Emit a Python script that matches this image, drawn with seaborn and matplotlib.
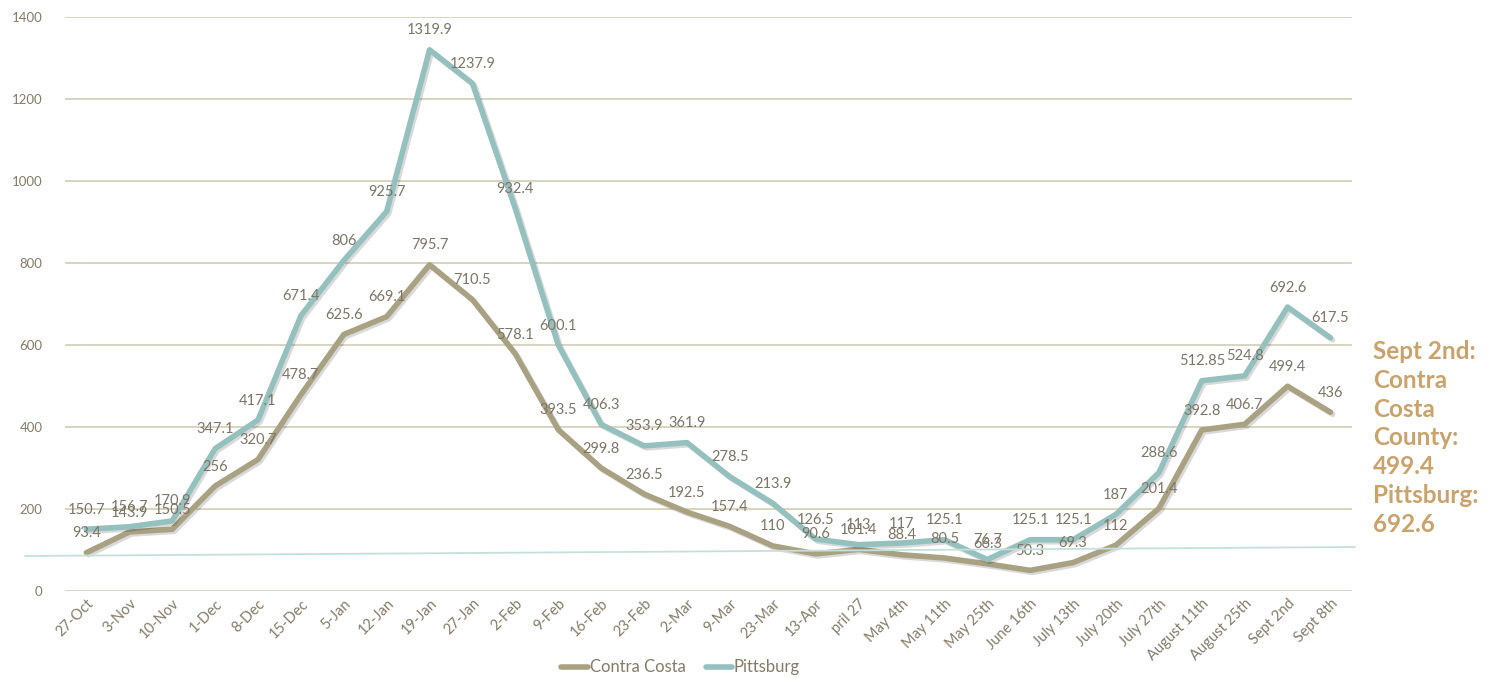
import numpy as np
import pandas as pd
import seaborn as sns
import matplotlib.pyplot as plt
import matplotlib.patheffects as pe
from matplotlib.lines import Line2D

weeks = ["27-Oct", "3-Nov", "10-Nov", "1-Dec", "8-Dec", "15-Dec", "5-Jan", "12-Jan",
         "19-Jan", "27-Jan", "2-Feb", "9-Feb", "16-Feb", "23-Feb", "2-Mar", "9-Mar",
         "23-Mar", "13-Apr", "pril 27", "May 4th", "May 11th", "May 25th", "June 16th",
         "July 13th", "July 20th", "July 27th", "August 11th", "August 25th",
         "Sept 2nd", "Sept 8th"]
contra_costa = [93.4, 143.9, 150.5, 256, 320.7, 478.7, 625.6, 669.1, 795.7, 710.5,
                578.1, 393.5, 299.8, 236.5, 192.5, 157.4, 110, 90.6, 101.4, 88.4,
                80.5, 66.3, 50.3, 69.3, 112, 201.4, 392.8, 406.7, 499.4, 436]
pittsburg = [150.7, 156.7, 170.9, 347.1, 417.1, 671.4, 806, 925.7, 1319.9, 1237.9,
             932.4, 600.1, 406.3, 353.9, 361.9, 278.5, 213.9, 126.5, 113, 117,
             125.1, 76.7, 125.1, 125.1, 187, 288.6, 512.85, 524.8, 692.6, 617.5]
labels_cc = ["93.4", "143.9", "150.5", "256", "320.7", "478.7", "625.6", "669.1", "795.7",
             "710.5", "578.1", "393.5", "299.8", "236.5", "192.5", "157.4", "110", "90.6",
             "101.4", "88.4", "80.5", "66.3", "50.3", "69.3", "112", "201.4", "392.8",
             "406.7", "499.4", "436"]
labels_pb = ["150.7", "156.7", "170.9", "347.1", "417.1", "671.4", "806", "925.7",
             "1319.9", "1237.9", "932.4", "600.1", "406.3", "353.9", "361.9", "278.5",
             "213.9", "126.5", "113", "117", "125.1", "76.7", "125.1", "125.1", "187",
             "288.6", "512.85", "524.8", "692.6", "617.5"]
note = "Sept 2nd:\nContra\nCosta\nCounty:\n499.4\nPittsburg:\n692.6"

df = pd.DataFrame({
    "week": weeks * 2,
    "rate": contra_costa + pittsburg,
    "area": ["Contra Costa"] * len(weeks) + ["Pittsburg"] * len(weeks),
})

sns.set_style("white")
plt.rcParams["font.family"] = ["Lato", "DejaVu Sans"]

text_col = "#857b68"
colors = {"Contra Costa": "#a8a282", "Pittsburg": "#94c0bd"}

fig = plt.figure(figsize=(14.96, 6.79), dpi=100)
ax = fig.add_axes([0.0434, 0.1296, 0.8603, 0.8454])

sns.lineplot(data=df, x="week", y="rate", hue="area", palette=colors, sort=False,
             linewidth=4, ax=ax, legend=False,
             path_effects=[pe.SimpleLineShadow(offset=(1.5, -1.5), alpha=0.15),
                           pe.Normal()])

for i, (v, s) in enumerate(zip(pittsburg, labels_pb)):
    ax.annotate(s, (i, v), xytext=(0, 14), textcoords="offset points",
                ha="center", va="center", fontsize=10.5, color="#7d7566")
for i, (v, s) in enumerate(zip(contra_costa, labels_cc)):
    ax.annotate(s, (i, v), xytext=(0, 14), textcoords="offset points",
                ha="center", va="center", fontsize=10.5, color="#7d7566")

ax.set_xlim(-0.5, len(weeks) - 0.5)
ax.set_ylim(0, 1400)
ax.set_yticks(np.arange(0, 1401, 200))
ax.yaxis.grid(True, color="#d9d4bf", linewidth=1.4)
ax.set_axisbelow(True)
sns.despine(ax=ax, left=True, bottom=True, top=True, right=True)
ax.set_xlabel("")
ax.set_ylabel("")
ax.tick_params(axis="y", length=0, pad=16, labelsize=9.5, labelcolor=text_col)
ax.tick_params(axis="x", length=0, pad=4, labelsize=10.5, labelcolor=text_col)
plt.setp(ax.get_xticklabels(), rotation=45, ha="right", rotation_mode="anchor")

# thin baseline shape from the slide
fig.add_artist(Line2D([25 / 1496, 1355 / 1496], [1 - 556 / 679, 1 - 547 / 679],
                      color="#c4e0dd", linewidth=1.3))

handles = [Line2D([], [], color=colors[k], linewidth=4) for k in colors]
fig.legend(handles, list(colors), loc="center", bbox_to_anchor=(0.455, 0.017),
           ncol=2, frameon=False, fontsize=12, labelcolor=text_col,
           handlelength=1.6, handletextpad=0.1, columnspacing=1.2)

fig.text(0.918, 0.355, note, fontsize=17.5, fontweight="bold", color="#c9a26c",
         ha="left", va="center", linespacing=1.3)

fig.savefig("out.png", dpi=100)
